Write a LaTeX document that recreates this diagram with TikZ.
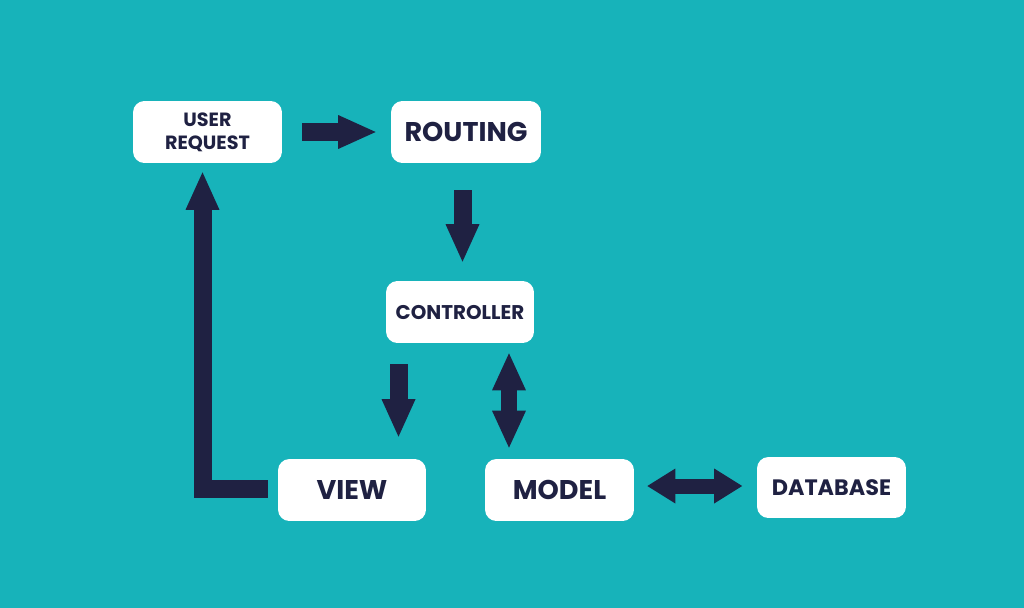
\documentclass[tikz,border=0pt]{standalone}
\usepackage{fontspec}
\setmainfont{Poppins}
\usetikzlibrary{arrows.meta}
\definecolor{bg}{HTML}{17B3BA}
\definecolor{navy}{HTML}{1F2142}
\begin{document}
\begin{tikzpicture}[x=0.02cm,y=-0.02cm,
  box/.style={fill=white, rounded corners=6.5pt, minimum width=2.98cm, minimum height=1.24cm,
    inner sep=0pt, text=navy, align=center},
  big/.style={font=\fontsize{15.4}{17}\selectfont\bfseries},
  small/.style={font=\fontsize{10.9}{13}\selectfont\bfseries},
  fat/.style={draw=navy, line width=0.36cm,
    -{Triangle[width=0.68cm,length=0.75cm,line width=0pt]}},
  fatboth/.style={draw=navy, line width=0.32cm,
    {Triangle[width=0.68cm,length=0.74cm,line width=0pt]}-{Triangle[width=0.68cm,length=0.74cm,line width=0pt]}},
  fatbothh/.style={draw=navy, line width=0.30cm,
    {Triangle[width=0.70cm,length=0.56cm,line width=0pt]}-{Triangle[width=0.70cm,length=0.56cm,line width=0pt]}}]
\fill[bg] (0,0) rectangle (1024,608);
\useasboundingbox (0,0) rectangle (1024,608);

\node[box, small] (user) at (207.5,132) {USER\\REQUEST};
\node[box, big, minimum width=3cm] (routing) at (466,132) {ROUTING};
\node[box, font=\fontsize{11.3}{13}\selectfont\bfseries, minimum width=2.96cm] (ctrl) at (460,312) {CONTROLLER};
\node[box, big, minimum width=2.96cm] (view) at (352,490) {VIEW};
\node[box, big] (model) at (559.5,490) {MODEL};
\node[box, font=\fontsize{12.7}{14}\selectfont\bfseries, minimum height=1.22cm] (db) at (831.5,487.5) {DATABASE};

\draw[fat, shorten <=0.4cm, shorten >=0.3cm] (user.east) -- (routing.west);
\draw[fat, shorten <=0.54cm, shorten >=0.38cm]
  ([xshift=-0.07cm]routing.south) -- ([xshift=-0.07cm]routing.south |- ctrl.north);
\draw[fat, shorten <=0.42cm, shorten >=0.44cm]
  ([xshift=-1.23cm]ctrl.south) -- ([xshift=-1.23cm]ctrl.south |- view.north);
\draw[fatboth, shorten <=0.2cm, shorten >=0.22cm]
  ([xshift=0.98cm]ctrl.south) -- ([xshift=0.98cm]ctrl.south |- model.north);
\draw[fatbothh, shorten <=0.26cm, shorten >=0.29cm]
  ([yshift=0.08cm]model.east) -- ([yshift=0.08cm]model.east -| db.west);
\draw[fat, shorten <=0.2cm, shorten >=0.18cm]
  ([yshift=0.03cm]view.west) -| ([xshift=-0.1cm]user.south);
\end{tikzpicture}
\end{document}
